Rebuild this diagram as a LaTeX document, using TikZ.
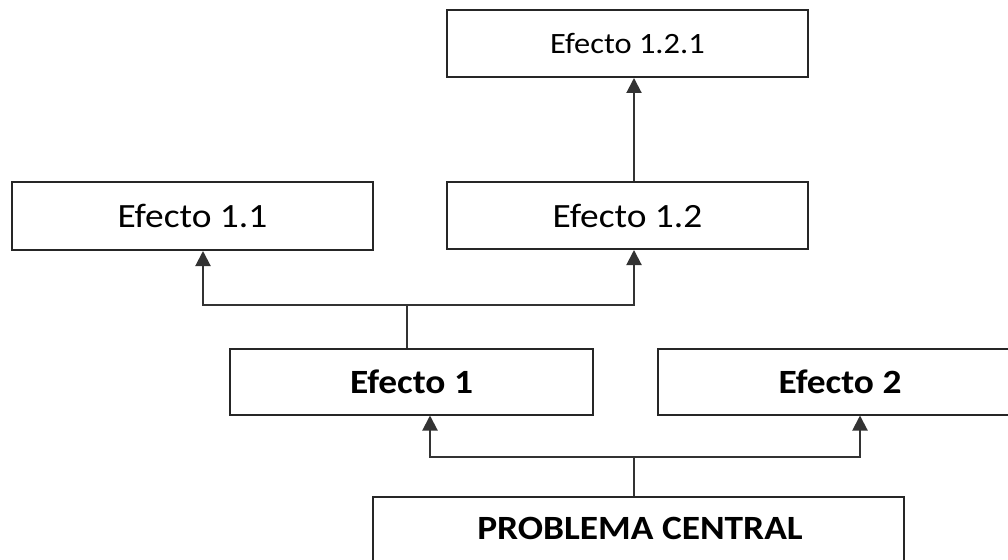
\documentclass[tikz,border=0pt]{standalone}
\usepackage{fontspec}
\setmainfont{Carlito}[FakeStretch=1.1]
\usetikzlibrary{arrows.meta}
\begin{document}
\begin{tikzpicture}[x=1pt,y=-1pt,
  box/.style={draw=black!85, line width=2pt, fill=white, inner sep=0pt, anchor=center},
  lbl/.style={font=\fontsize{34}{40}\selectfont},
  smalllbl/.style={font=\fontsize{29.5}{36}\selectfont},
  boldlbl/.style={font=\fontsize{34}{40}\selectfont\bfseries},
  link/.style={draw=black!80, line width=2pt},
  uparrow/.style={link, -{Triangle[width=15pt,length=15pt]}}]
\clip (0,0) rectangle (1008,559);
\fill[white] (0,0) rectangle (1008,559);

% effect tree boxes
\node[box, smalllbl, minimum width=361pt, minimum height=67pt] (e121) at (627.5,43.5) {Efecto 1.2.1};
\node[box, lbl, minimum width=361pt, minimum height=68pt] (e11) at (192.5,216) {Efecto 1.1};
\node[box, lbl, minimum width=361pt, minimum height=67pt] (e12) at (627.5,215.5) {Efecto 1.2};
\node[box, boldlbl, minimum width=363pt, minimum height=66pt] (e1) at (411.5,381.5) {Efecto 1};
\node[box, boldlbl, minimum width=364pt, minimum height=66pt] (e2) at (840,381.5) {Efecto 2};
\node[box, minimum width=531pt, minimum height=68pt] (pc) at (638.5,531) {};
\node[boldlbl] (pct) at (640,528) {PROBLEMA CENTRAL};

% junction points
\coordinate (j1) at (407,305);
\coordinate (j0) at (634,457);

% Efecto 1 -> Efecto 1.1 / Efecto 1.2
\draw[link] (e1.north -| j1) -- (j1);
\draw[uparrow] (j1) -| ([xshift=10.5pt]e11.south);
\draw[uparrow] (j1) -| ([xshift=6.5pt]e12.south);

% Efecto 1.2 -> Efecto 1.2.1
\draw[uparrow] ([xshift=6.5pt]e12.north) -- ([xshift=6.5pt]e121.south);

% Problema central -> Efecto 1 / Efecto 2
\draw[link] (pc.north -| j0) -- (j0);
\draw[uparrow] (j0) -| ([xshift=18.5pt]e1.south);
\draw[uparrow] (j0) -| ([xshift=20pt]e2.south);
\end{tikzpicture}
\end{document}
